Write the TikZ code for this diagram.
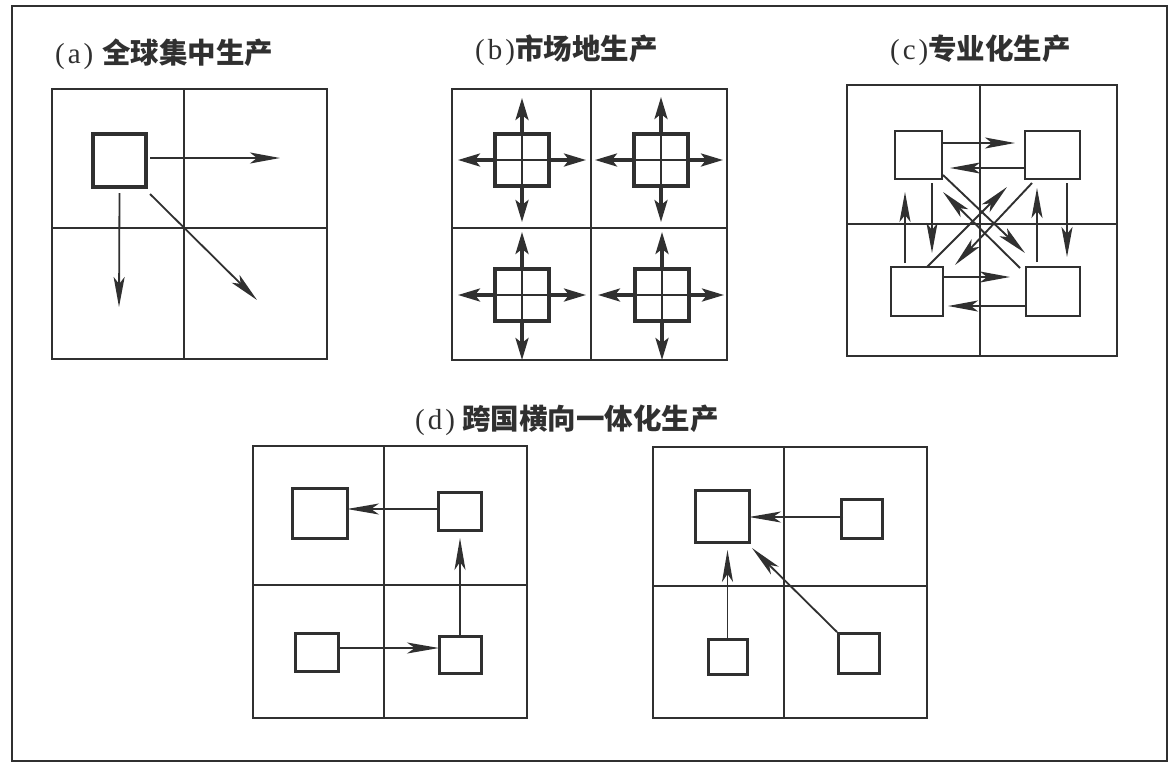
\documentclass[tikz,border=0pt]{standalone}
\usepackage{fontspec}
\setmainfont{Liberation Serif}
\newfontfamily\cjk{Noto Sans CJK SC}
\usetikzlibrary{arrows.meta,calc}
\definecolor{ink}{HTML}{303030}
\begin{document}
\begin{tikzpicture}[x=1pt,y=-1pt,
  grid/.style={draw=ink,line width=1.9pt},
  frame/.style={draw=ink,line width=2.6pt},
  title/.style={anchor=west,inner sep=0pt,text=ink,font=\fontsize{29}{32}\selectfont},
  box/.style={draw=ink,fill=white,inner sep=0pt,outer sep=0pt},
  boxA/.style={box,line width=3.2pt,minimum width=53pt,minimum height=53pt},
  boxB/.style={box,line width=3.8pt,minimum width=54pt,minimum height=52pt,
    path picture={\draw[ink,line width=2.4pt] (path picture bounding box.north) -- (path picture bounding box.south)
      (path picture bounding box.west) -- (path picture bounding box.east);}},
  boxC/.style={box,line width=2.6pt},
  boxD/.style={box,line width=3pt},
  arrA/.style={draw=ink,line width=1.8pt,-{Stealth[length=30pt,width=11pt,inset=7pt]}},
  arrB/.style={draw=ink,line width=3.4pt,-{Stealth[length=22pt,width=13pt,inset=5pt]}},
  arrC/.style={draw=ink,line width=1.9pt,-{Stealth[length=30pt,width=11pt,inset=7pt]}},
  arrD/.style={draw=ink,line width=1.8pt,-{Stealth[length=32pt,width=11pt,inset=8pt]}}
]
\useasboundingbox (0,0) rectangle (1174,766);
\fill[white] (0,0) rectangle (1174,766);
\draw[frame] (12,6) rectangle (1167,761);

% titles
\newcommand\cjt[1]{{\fontsize{28.5}{32}\selectfont\cjk\bfseries #1}}
\node[title] (ta) at (55,54) {(\hspace{3pt}a\hspace{3pt})\hspace{9pt}\cjt{全球集中生产}};
\node[title] (tb) at (475,50) {(\hspace{3pt}b\hspace{3pt})\cjt{市场地生产}};
\node[title] (tc) at (890,50) {(\hspace{3pt}c\hspace{3pt})\cjt{专业化生产}};
\node[title] (td) at (415,420) {(\hspace{3pt}d\hspace{3pt})\hspace{7pt}\cjt{跨国横向一体化生产}};

% ---------- panel (a)
\draw[grid] (52,89) rectangle (327,359) (184,89) -- (184,359) (52,228) -- (327,228);
\node[boxA] (bA) at (119.5,160.5) {};
\coordinate (aR) at (280,158);
\coordinate (aD) at (119,307);
\coordinate (aX) at (257,300);
\draw[arrA] ($(bA.east)+(4,-2.5)$) -- (aR);
\draw[arrA] ($(bA.south)+(0,6)$) -- (aD);
\draw[arrA] ($(bA.south east)+(4,7)$) -- (aX);

% ---------- panel (b)
\draw[grid] (452,89) rectangle (727,360) (591,89) -- (591,360) (452,228) -- (727,228);
\foreach \n/\cx/\cy/\up/\dn/\lf/\rt in {b1/522/160/36/36/37/37, b2/661/160/37/36/39/35, b3/522/295/37/39/37/37, b4/662/295/37/39/37/35}{
  \node[boxB] (\n) at (\cx,\cy) {};
  \draw[arrB] (\n.north) -- ++(0,-\up);
  \draw[arrB] (\n.south) -- ++(0,\dn);
  \draw[arrB] (\n.west) -- ++(-\lf,0);
  \draw[arrB] (\n.east) -- ++(\rt,0);
}

% ---------- panel (c)
\draw[grid] (847,85) rectangle (1117,356) (980,85) -- (980,356) (847,224) -- (1117,224);
\node[boxC,minimum width=47pt,minimum height=48pt] (cTL) at (918.5,155) {};
\node[boxC,minimum width=55pt,minimum height=48pt] (cTR) at (1052.5,155) {};
\node[boxC,minimum width=52pt,minimum height=49pt] (cBL) at (917,291.5) {};
\node[boxC,minimum width=54pt,minimum height=49pt] (cBR) at (1053,291.5) {};
% horizontal
\draw[arrC] ($(cTL.east)+(0,-12)$) -- ($(cTR.west)+(-10,-12)$);
\draw[arrC] ($(cTR.west)+(0,13)$) -- ($(cTL.east)+(8,13)$);
\draw[arrC] ($(cBL.east)+(0,-14.5)$) -- ($(cBR.west)+(-16,-14.5)$);
\draw[arrC] ($(cBR.west)+(0,14.5)$) -- ($(cBL.east)+(5,14.5)$);
% vertical
\draw[arrC] ($(cTL.south east)+(-10,4)$) -- ($(cBL.north east)+(-11,-14)$);
\draw[arrC] ($(cBL.north west)+(14,-4)$) -- ($(cTL.south west)+(10,13)$);
\draw[arrC] ($(cBR.north west)+(11,-5)$) -- ($(cTR.south west)+(12,9)$);
\draw[arrC] ($(cTR.south)+(14.5,4)$) -- ($(cBR.north)+(14,-10)$);
% diagonal
\draw[arrC] ($(cTL.south east)+(1,-4)$) -- ($(cBR.north west)+(-1,-14)$);
\draw[arrC] ($(cBR.north west)+(-6,1)$) -- ($(cTL.south east)+(1,13)$);
\draw[arrC] ($(cBL.north east)+(-16,0)$) -- ($(cTR.south west)+(-18,8)$);
\draw[arrC] ($(cTR.south west)+(7,4)$) -- ($(cBL.north east)+(12,-2)$);

% ---------- panel (d) left
\draw[grid] (253,446) rectangle (527,718) (384,446) -- (384,718) (253,585) -- (527,585);
\node[boxD,minimum width=55pt,minimum height=50pt] (dTL) at (319.5,513) {};
\node[boxD,minimum width=43pt,minimum height=38pt] (dTR) at (459.5,511) {};
\node[boxD,minimum width=43pt,minimum height=38pt] (dBL) at (316.5,652) {};
\node[boxD,minimum width=42pt,minimum height=37pt] (dBR) at (460,654.5) {};
\draw[arrD] ($(dTR.west)+(0,-2)$) -- ($(dTL.east)+(0,-4)$);
\draw[arrD] (dBR.north) -- ($(dTR.south)+(0.5,8)$);
\draw[arrD] ($(dBL.east)+(0,-4)$) -- ($(dBR.west)+(0,-6.5)$);

% ---------- panel (d) right
\draw[grid] (653,447) rectangle (927,718) (784,447) -- (784,718) (653,586) -- (927,586);
\node[boxD,minimum width=54pt,minimum height=52pt] (eTL) at (722,516) {};
\node[boxD,minimum width=41pt,minimum height=39pt] (eTR) at (861.5,518.5) {};
\node[boxD,minimum width=39pt,minimum height=35pt] (eBL) at (727.5,656.5) {};
\node[boxD,minimum width=41pt,minimum height=40pt] (eBR) at (858.5,653) {};
\draw[arrD] ($(eTR.west)+(2,-1.5)$) -- ($(eTL.east)+(0,1)$);
\draw[arrD] (eBL.north) -- ($(eTL.south)+(5.5,8)$);
\draw[arrD] ($(eBR.north west)+(-1,-1)$) -- ($(eTL.south east)+(3,6)$);
\end{tikzpicture}
\end{document}
